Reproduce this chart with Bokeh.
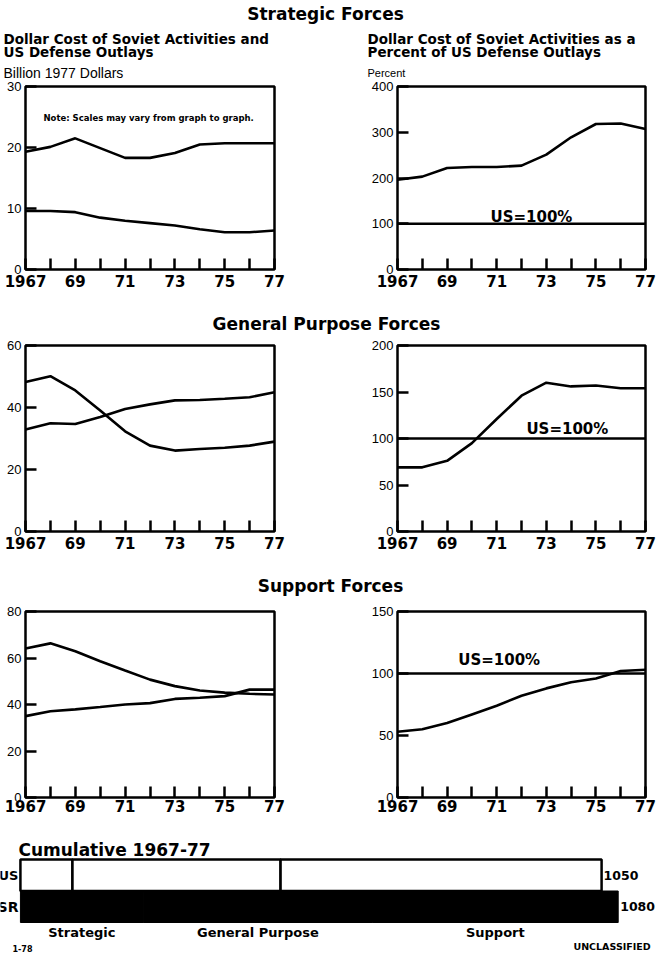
from bokeh.plotting import figure
from bokeh.layouts import column, row
from bokeh.models import Range1d, FactorRange, FixedTicker, Label, Span
from bokeh.embed import file_html
from bokeh.resources import INLINE
import numpy as np

# ---------------- data ----------------
years = list(range(1967, 1978))
year_labels = {1967: "1967", 1969: "69", 1971: "71", 1973: "73", 1975: "75", 1977: "77"}

strat_ussr = [19.3, 20.1, 21.5, 19.9, 18.3, 18.3, 19.1, 20.5, 20.7, 20.7, 20.7]
strat_us = [9.6, 9.6, 9.4, 8.5, 8.0, 7.6, 7.2, 6.6, 6.1, 6.1, 6.4]
strat_pct = [196, 203, 222, 224, 224, 227, 251, 289, 318, 319, 307]

gp_us = [48.2, 50.1, 45.5, 39.0, 32.3, 27.7, 26.1, 26.6, 27.0, 27.7, 29.0]
gp_ussr = [32.9, 34.9, 34.7, 36.9, 39.5, 41.0, 42.3, 42.4, 42.8, 43.3, 44.9]
gp_pct = [69, 69, 76, 95, 121, 146, 160, 156, 157, 154, 154]

sup_us = [64.1, 66.3, 62.9, 58.6, 54.6, 50.7, 47.9, 46.0, 45.1, 44.6, 44.3]
sup_ussr = [35.0, 37.1, 37.9, 38.9, 40.0, 40.6, 42.4, 42.9, 43.6, 46.4, 46.4]
sup_pct = [53, 55, 60, 67, 74, 82, 88, 93, 96, 102, 103]

strat_abs_ticks = [0, 10, 20, 30]
strat_pct_ticks = [0, 100, 200, 300, 400]
gp_abs_ticks = [0, 20, 40, 60]
gp_pct_ticks = [0, 50, 100, 150, 200]
sup_abs_ticks = [0, 20, 40, 60, 80]
sup_pct_ticks = [0, 50, 100, 150]

US_BASE = 100

cum_segments = ["Strategic", "General Purpose", "Support"]
cum_countries = ["USSR", "US"]
cum_us = [94, 376, 580]
cum_ussr = [222, 414, 444]

BOLD = "DejaVu Sans"
REG = "Liberation Sans"


def label(p, x, y, text, size, bold=True, align="left", x_offset=0, y_offset=0):
    p.add_layout(Label(x=x, y=y, text=text, x_offset=x_offset, y_offset=y_offset,
                       text_font=BOLD if bold else REG,
                       text_font_style="bold" if bold else "normal",
                       text_font_size=size, text_align=align, text_baseline="middle",
                       text_color="black"))


def strip(height, items):
    """A text-only band whose frame is the whole canvas (coordinates = pixels)."""
    p = figure(width=657, height=height, x_range=Range1d(0, 657), y_range=Range1d(height, 0),
               x_axis_type=None, y_axis_type=None, output_backend="svg", toolbar_location=None,
               min_border=0)
    p.grid.visible = False
    p.outline_line_color = None
    for it in items:
        x, y, t, size = it[:4]
        bold = it[4] if len(it) > 4 else True
        align = it[5] if len(it) > 5 else "left"
        label(p, x, y, t, size, bold=bold, align=align)
    return p


def panel(width, height, L, T, FW, FH, ymax, yticks, xstand):
    p = figure(width=width, height=height, x_range=Range1d(1967, 1977), y_range=Range1d(0, ymax),
               output_backend="svg", toolbar_location=None,
               min_border_left=L, min_border_right=width - L - FW,
               min_border_top=T, min_border_bottom=height - T - FH)
    p.grid.visible = False
    p.outline_line_color = "black"
    p.outline_line_width = 2.5
    p.outline_line_alpha = 1.0
    p.background_fill_color = "white"
    p.border_fill_color = "white"
    xa = p.xaxis[0]
    ya = p.yaxis[0]
    xa.ticker = FixedTicker(ticks=years)
    xa.major_label_overrides = {y: year_labels.get(y, "") for y in years}
    ya.ticker = FixedTicker(ticks=yticks)
    for ax in (xa, ya):
        ax.axis_line_color = None
        ax.major_tick_in = 11
        ax.major_tick_out = 0
        ax.major_tick_line_width = 2.5
        ax.major_tick_line_color = "black"
        ax.minor_tick_line_color = None
        ax.major_label_text_color = "black"
    xa.major_label_text_font = BOLD
    xa.major_label_text_font_style = "bold"
    xa.major_label_text_font_size = "15px"
    xa.major_label_standoff = xstand
    ya.major_label_text_font = REG
    ya.major_label_text_font_size = "13px"
    ya.major_label_standoff = 4
    return p


def lines(p, series):
    for s in series:
        p.line(years, s, line_color="black", line_width=2.6)


def us_line(p, tx, ty):
    p.add_layout(Span(location=US_BASE, dimension="width", line_color="black", line_width=2.5))
    label(p, tx, ty, "US=100%", "15px", align="center")


# ---------------- row 1: strategic ----------------
s1 = strip(79, [
    (325, 13, "Strategic Forces", "17px", True, "center"),
    (3, 38, "Dollar Cost of Soviet Activities and", "13.5px"),
    (3, 51, "US Defense Outlays", "13.5px"),
    (3, 72, "Billion 1977 Dollars", "14px", False),
    (367, 38, "Dollar Cost of Soviet Activities as a", "13.5px"),
    (367, 51, "Percent of US Defense Outlays", "13.5px"),
    (367, 72, "Percent", "11px", False),
])

a1 = panel(330, 221, 25, 7, 249, 183, 30, strat_abs_ticks, 5)
lines(a1, [strat_ussr, strat_us])
label(a1, 1967.72, 24.9, "Note: Scales may vary from graph to graph.", "8.5px")

b1 = panel(327, 221, 67, 7, 248, 183, 400, strat_pct_ticks, 5)
lines(b1, [strat_pct])
us_line(b1, 1972.4, 114)

# ---------------- row 2: general purpose ----------------
s2 = strip(36, [(326, 23, "General Purpose Forces", "17px", True, "center")])

a2 = panel(330, 224, 25, 9, 249, 186, 60, gp_abs_ticks, 5)
lines(a2, [gp_us, gp_ussr])

b2 = panel(327, 224, 67, 9, 248, 186, 200, gp_pct_ticks, 5)
lines(b2, [gp_pct])
us_line(b2, 1973.85, 110)

# ---------------- row 3: support ----------------
s3 = strip(40, [(330, 25, "Support Forces", "17px", True, "center")])

a3 = panel(330, 220, 25, 11, 249, 186, 80, sup_abs_ticks, 2)
lines(a3, [sup_us, sup_ussr])

b3 = panel(327, 220, 67, 11, 248, 186, 150, sup_pct_ticks, 2)
lines(b3, [sup_pct])
us_line(b3, 1971.1, 110.5)

# ---------------- cumulative bars ----------------
c = figure(width=657, height=135, x_range=Range1d(-36, 1151),
           y_range=FactorRange(factors=cum_countries, range_padding=1.0476),
           x_axis_type=None, y_axis_type=None, output_backend="svg", toolbar_location=None,
           min_border_left=0, min_border_right=0, min_border_bottom=0, min_border_top=6)
c.grid.visible = False
c.outline_line_color = None

us_right = np.cumsum(cum_us)
us_left = us_right - np.array(cum_us)
ussr_right = np.cumsum(cum_ussr)
ussr_left = ussr_right - np.array(cum_ussr)

c.hbar(y=["US"] * len(cum_us), left=us_left, right=us_right, height=1,
       fill_color="white", line_color="black", line_width=2.5)
c.hbar(y=["USSR"] * len(cum_ussr), left=ussr_left, right=ussr_right, height=1,
       fill_color="black", line_color="black", line_width=1)

# synthetic (numeric) centres of the categorical bands
yc_us = cum_countries.index("US") + 0.5
yc_ussr = cum_countries.index("USSR") + 0.5

label(c, 0, yc_us, "Cumulative 1967-77", "17px", x_offset=-2, y_offset=25)
label(c, 0, yc_us, "US", "13px", align="right", x_offset=-2)
label(c, 0, yc_ussr, "USSR", "14px", align="right", x_offset=-2)
label(c, float(us_right[-1]), yc_us, str(int(us_right[-1])), "12.5px", x_offset=2)
label(c, float(ussr_right[-1]), yc_ussr, str(int(ussr_right[-1])), "12.5px", x_offset=2)
for name, l, r in zip(cum_segments, ussr_left, ussr_right):
    label(c, float((l + r) / 2), yc_ussr, name, "13px", align="center", y_offset=-26)
label(c, 0, yc_ussr, "UNCLASSIFIED", "9.5px", x_offset=553, y_offset=-40)
label(c, 0, yc_ussr, "1-78", "8px", x_offset=-8, y_offset=-42)

layout = column(s1, row(a1, b1, spacing=0), s2, row(a2, b2, spacing=0), s3,
                row(a3, b3, spacing=0), c, spacing=0)

open("out.html", "w").write(file_html(layout, INLINE))
